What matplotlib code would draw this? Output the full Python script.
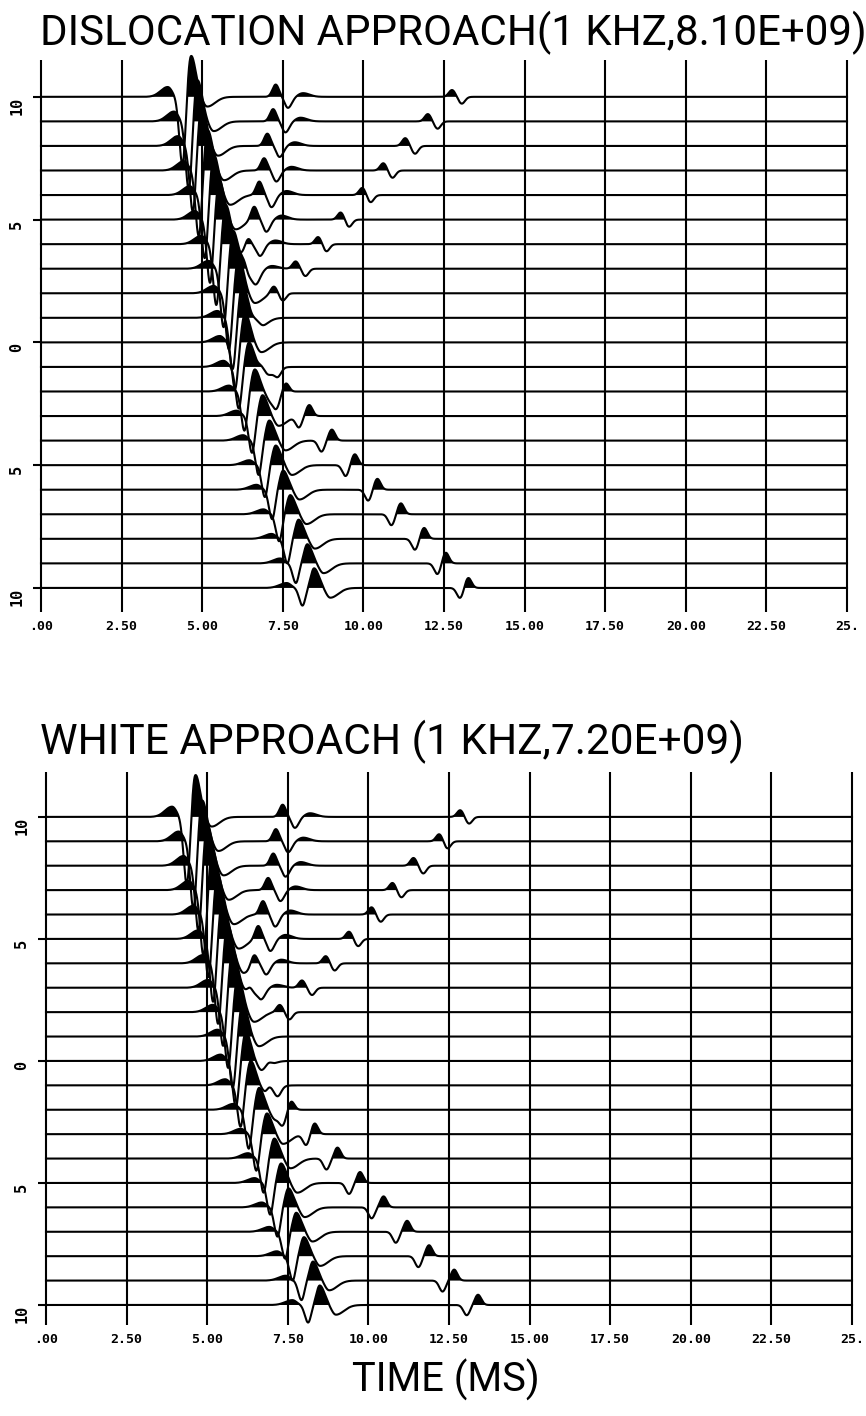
import numpy as np
import matplotlib
matplotlib.use("Agg")
import matplotlib.pyplot as plt
from matplotlib import transforms

# trace positions, top to bottom
offsets = list(range(10, -11, -1))
ytick_pos = [10, 5, 0, -5, -10]
ytick_labels = ["10", "5", "0", "5", "10"]
xtick_pos = [0, 2.5, 5, 7.5, 10, 12.5, 15, 17.5, 20, 22.5, 25]
xtick_labels = [".00", "2.50", "5.00", "7.50", "10.00", "12.50", "15.00",
                "17.50", "20.00", "22.50", "25."]

nan = np.nan

# ---- DISLOCATION APPROACH (top) ----
disl_main_t = [4.65, 4.85, 4.98, 5.17, 5.36, 5.53, 5.73, 5.96, 6.13, 6.25, 6.33,
               6.45, 6.63, 6.87, 7.08, 7.28, 7.51, 7.73, 7.99, 8.26, 8.47]
disl_main_pk = [1.7, 1.7, 1.65, 1.65, 1.65, 1.6, 1.6, 1.55, 1.5, 1.4, 1.2,
                1.0, 0.9, 0.85, 0.82, 0.8, 0.78, 0.78, 0.78, 0.78, 0.8]
disl_main_tr = [2.8, 2.8, 2.7, 2.7, 2.6, 2.6, 2.5, 2.4, 2.3, 2.1, 1.9,
                1.7, 1.6, 1.5, 1.4, 1.3, 1.2, 1.1, 1.0, 0.8, 0.72]
disl_pre = [0.4, 0.4, 0.4, 0.38, 0.36, 0.35, 0.34, 0.32, 0.3, 0.28, 0.26,
            0.25, 0.24, 0.22, 0.22, 0.2, 0.2, 0.2, 0.2, 0.2, 0.2]
disl_sec_t = [7.28, 7.2, 7.02, 6.92, 6.77, 6.61, 6.42, 6.3, nan, nan, nan,
              nan, nan, nan, nan, nan, nan, nan, nan, nan, nan]
disl_sec_a = [0.5, 0.5, 0.5, 0.5, 0.55, 0.55, 0.5, 0.4, 0, 0, 0,
              0, 0, 0, 0, 0, 0, 0, 0, 0, 0]
disl_v_bump = [12.75, 12.0, 11.3, 10.62, 9.97, 9.3, 8.6, 7.9, 7.22, 6.7, nan,
               6.87, 7.59, 8.32, 9.02, 9.73, 10.43, 11.16, 11.88, 12.55, 13.25]
disl_v_dip = [13.05, 12.3, 11.6, 10.9, 10.22, 9.55, 8.85, 8.2, 7.5, nan, nan,
              7.35, 7.3, 8.0, 8.7, 9.45, 10.15, 10.87, 11.6, 12.3, 13.0]
disl_v_a = [0.28, 0.3, 0.32, 0.3, 0.3, 0.3, 0.3, 0.3, 0.3, 0.25, 0,
            0.3, 0.4, 0.45, 0.45, 0.45, 0.45, 0.45, 0.45, 0.45, 0.42]

# ---- WHITE APPROACH (bottom) ----
white_main_t = [4.63, 4.84, 5.0, 5.16, 5.32, 5.47, 5.63, 5.79, 5.95, 6.1, 6.2,
                6.35, 6.61, 6.85, 7.08, 7.29, 7.52, 7.76, 8.0, 8.28, 8.49]
white_main_pk = [1.75, 1.7, 1.7, 1.65, 1.65, 1.6, 1.6, 1.55, 1.5, 1.4, 1.2,
                 1.0, 0.9, 0.85, 0.82, 0.8, 0.78, 0.78, 0.78, 0.78, 0.8]
white_main_tr = [2.8, 2.8, 2.7, 2.7, 2.6, 2.6, 2.5, 2.4, 2.3, 2.1, 1.9,
                 1.7, 1.6, 1.5, 1.4, 1.3, 1.2, 1.1, 1.0, 0.8, 0.72]
white_pre = [0.42, 0.4, 0.4, 0.38, 0.36, 0.35, 0.34, 0.32, 0.3, 0.28, 0.26,
             0.25, 0.24, 0.22, 0.22, 0.2, 0.2, 0.2, 0.2, 0.2, 0.2]
white_sec_t = [7.34, 7.13, 7.05, 6.89, 6.73, 6.58, 6.45, 6.31, nan, nan, nan,
               nan, nan, nan, nan, nan, nan, nan, nan, nan, nan]
white_sec_a = [0.5, 0.5, 0.5, 0.5, 0.55, 0.55, 0.5, 0.4, 0, 0, 0,
               0, 0, 0, 0, 0, 0, 0, 0, 0, 0]
white_v_bump = [12.85, 12.2, 11.4, 10.75, 10.1, 9.4, 8.68, 7.94, 7.25, nan, 6.9,
                6.93, 7.6, 8.33, 9.04, 9.74, 10.47, 11.2, 11.88, 12.66, 13.4]
white_v_dip = [13.12, 12.45, 11.7, 11.02, 10.38, 9.68, 8.95, 8.25, 7.55, nan, nan,
               7.2, 7.35, 8.07, 8.7, 9.4, 10.1, 10.85, 11.55, 12.3, 13.05]
white_v_a = [0.28, 0.3, 0.32, 0.3, 0.3, 0.3, 0.3, 0.3, 0.3, 0, 0.2,
             0.3, 0.4, 0.45, 0.45, 0.45, 0.45, 0.45, 0.45, 0.45, 0.42]

panels = [
    dict(title="DISLOCATION APPROACH(1 KHZ,8.10E+09)",
         main_t=disl_main_t, pk=disl_main_pk, tr=disl_main_tr, pre=disl_pre,
         sec_t=disl_sec_t, sec_a=disl_sec_a,
         v_bump=disl_v_bump, v_dip=disl_v_dip, v_a=disl_v_a),
    dict(title="WHITE APPROACH (1 KHZ,7.20E+09)",
         main_t=white_main_t, pk=white_main_pk, tr=white_main_tr, pre=white_pre,
         sec_t=white_sec_t, sec_a=white_sec_a,
         v_bump=white_v_bump, v_dip=white_v_dip, v_a=white_v_a),
]

W, H = 866, 1416
fig = plt.figure(figsize=(W / 100, H / 100), dpi=100)
renderer = fig.canvas.get_renderer()

# axes boxes in pixels: left, top, right, bottom, ylim top, ylim bottom
boxes = [(41, 60, 847, 612, 11.5, -10.98),
         (46, 772, 852, 1325, 11.84, -10.82)]
title_y = [33, 742]
title_w = [822, 703]

t = np.arange(0, 25.0001, 0.005)


def pulse(t0, a, wl, wr):
    if np.isnan(t0) or a == 0:
        return np.zeros_like(t)
    w = np.where(t < t0, wl, wr)
    return a * np.exp(-0.5 * ((t - t0) / w) ** 2)


def build(p, i):
    tp = p["main_t"][i]
    frac = i / 20.0
    tr_lead = 0.26 + 0.1 * frac
    pre_lead = 0.72 + 0.13 * frac
    s = pulse(tp - pre_lead, p["pre"][i], 0.22, 0.13)
    s += pulse(tp - tr_lead, -p["tr"][i], 0.1, 0.09)
    s += pulse(tp, p["pk"][i], 0.1, 0.15)
    s += pulse(tp + 0.5, -0.4, 0.13, 0.25)
    s += pulse(p["sec_t"][i], p["sec_a"][i], 0.1, 0.1)
    s += pulse(p["sec_t"][i] + 0.38, -0.9 * p["sec_a"][i], 0.1, 0.12)
    s += pulse(p["sec_t"][i] + 0.85, 0.3 * p["sec_a"][i], 0.15, 0.2)
    s += pulse(p["v_bump"][i], p["v_a"][i], 0.1, 0.1)
    s += pulse(p["v_dip"][i], -p["v_a"][i], 0.1, 0.1)
    return s


def fit_text(txt, width):
    w = txt.get_window_extent(renderer).width
    txt.set_fontsize(txt.get_fontsize() * width / w)


title_font = dict(family=["Roboto", "DejaVu Sans"], weight="normal")
tick_font = dict(family="DejaVu Sans Mono", weight="bold")

for k, p in enumerate(panels):
    l, tp_, r, b, ytop, ybot = boxes[k]
    ax = fig.add_axes([l / W, 1 - b / H, (r - l) / W, (b - tp_) / H])
    ax.set_xlim(0, 25)
    ax.set_ylim(ybot, ytop)
    for sp in ax.spines.values():
        sp.set_visible(False)

    ax.vlines(xtick_pos, ybot, ytop, color="black", lw=1.5, clip_on=False)

    for i, y0 in enumerate(offsets):
        s = build(p, i)
        ax.fill_between(t, y0, y0 + s, where=s > 0, interpolate=True,
                        color="black", lw=0, clip_on=False)
        ax.plot(t, y0 + s, color="black", lw=1.5, clip_on=False)

    ax.set_yticks(ytick_pos)
    ax.set_yticklabels(ytick_labels, rotation=90, va="top", fontsize=11,
                       **tick_font)
    shift = transforms.ScaledTranslation(0, -4 / 100, fig.dpi_scale_trans)
    for lab in ax.get_yticklabels():
        lab.set_transform(lab.get_transform() + shift)
    ax.tick_params(axis="y", length=6, width=1.5, pad=6)
    ax.set_xticks(xtick_pos)
    ax.set_xticklabels(xtick_labels, fontsize=9.5, **tick_font)
    ax.tick_params(axis="x", length=0, pad=6)

    ttl = fig.text(40 / W, 1 - title_y[k] / H, p["title"], ha="left",
                   va="center", fontsize=30, **title_font)
    fit_text(ttl, title_w[k])

xl = fig.text(446 / W, 1 - 1380 / H, "TIME (MS)", ha="center", va="center",
              fontsize=28, **title_font)
fit_text(xl, 188)

fig.savefig("out.png", dpi=100)
